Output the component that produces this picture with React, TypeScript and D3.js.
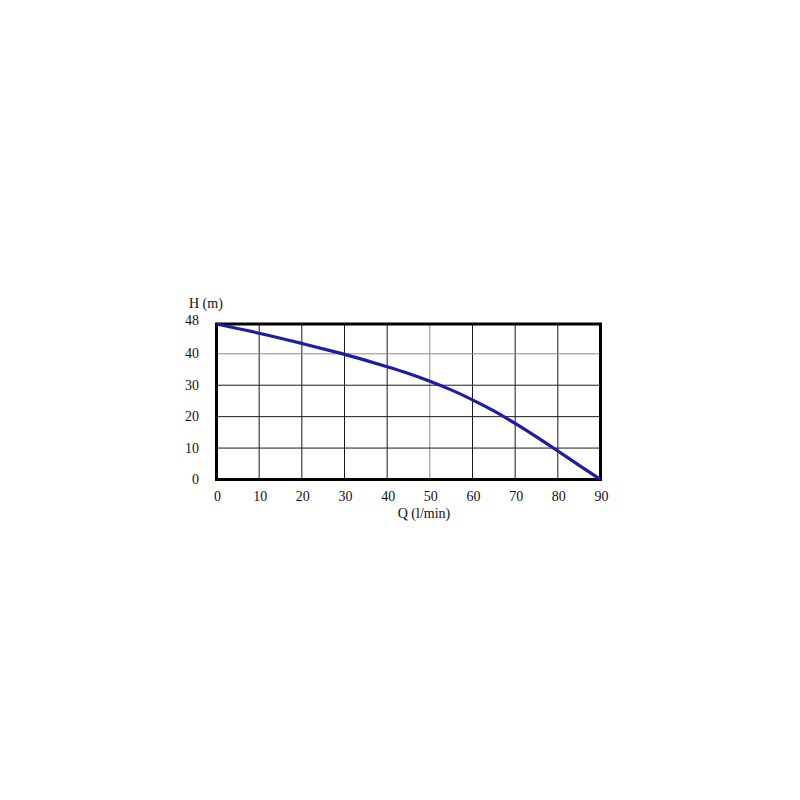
import React from "react";
import * as d3 from "d3";

const flowQ = [0, 10, 20, 30, 35, 40, 45, 50, 55, 60, 65, 70, 75, 80, 85, 90];
const headH = [48, 45.6, 42.8, 39.9, 37.9, 35.9, 33.8, 31.3, 28.6, 25.4, 21.9, 17.9, 13.6, 9.1, 4.5, 0];
const xTicks = [0, 10, 20, 30, 40, 50, 60, 70, 80, 90];
const yTicks = [0, 10, 20, 30, 40, 48];
const xTitle = "Q (l/min)";
const yTitle = "H (m)";

export default function App() {
  const left = 216.5, right = 600.5, top = 324, bottom = 479.5;
  const x = d3.scaleLinear().domain([0, 90]).range([left, right]);
  // the chart's vertical axis: 0–40 evenly spaced, 40–48 slightly stretched to the top
  const y = d3.scaleLinear().domain([0, 40, 48]).range([bottom, 353.8, top]);
  const pts: [number, number][] = flowQ.map((q, i) => [q, headH[i]]);
  const line = d3
    .line<[number, number]>()
    .x((d) => x(d[0]))
    .y((d) => y(d[1]))
    .curve(d3.curveBasis);
  const font = "Liberation Serif, Times New Roman, Times, serif";
  const grayX = 50;
  const grayY = 40;
  const txt = { fontFamily: font, fontSize: 14, fill: "#111" } as React.CSSProperties;
  return (
    <svg
      width={800}
      height={800}
      style={{ position: "absolute", left: 0, top: 0, background: "#fff" }}
    >
      {xTicks
        .filter((t) => t !== 0 && t !== 90)
        .map((t) => (
          <line
            key={"gx" + t}
            x1={x(t)}
            x2={x(t)}
            y1={top}
            y2={bottom}
            stroke={t === grayX ? "#8a8a8a" : "#1a1a1a"}
            strokeWidth={1}
          />
        ))}
      {yTicks
        .filter((t) => t !== 0 && t !== 48)
        .map((t) => (
          <line
            key={"gy" + t}
            x1={left}
            x2={right}
            y1={y(t)}
            y2={y(t)}
            stroke={t === grayY ? "#8a8a8a" : "#1a1a1a"}
            strokeWidth={1}
          />
        ))}
      <rect
        x={left}
        y={top}
        width={right - left}
        height={bottom - top}
        fill="none"
        stroke="#000"
        strokeWidth={3}
      />
      <path d={line(pts) || ""} fill="none" stroke="#1c1ca6" strokeWidth={3.2} />
      {yTicks.map((t) => (
        <text
          key={"ty" + t}
          x={199}
          y={y(t) + (t === 48 ? 0.5 : 4.5)}
          textAnchor="end"
          style={txt}
        >
          {t}
        </text>
      ))}
      {xTicks.map((t) => (
        <text key={"tx" + t} x={x(t) + 1} y={501} textAnchor="middle" style={txt}>
          {t}
        </text>
      ))}
      <text x={189} y={308} style={txt}>
        {yTitle}
      </text>
      <text x={424} y={518} textAnchor="middle" style={txt}>
        {xTitle}
      </text>
    </svg>
  );
}
